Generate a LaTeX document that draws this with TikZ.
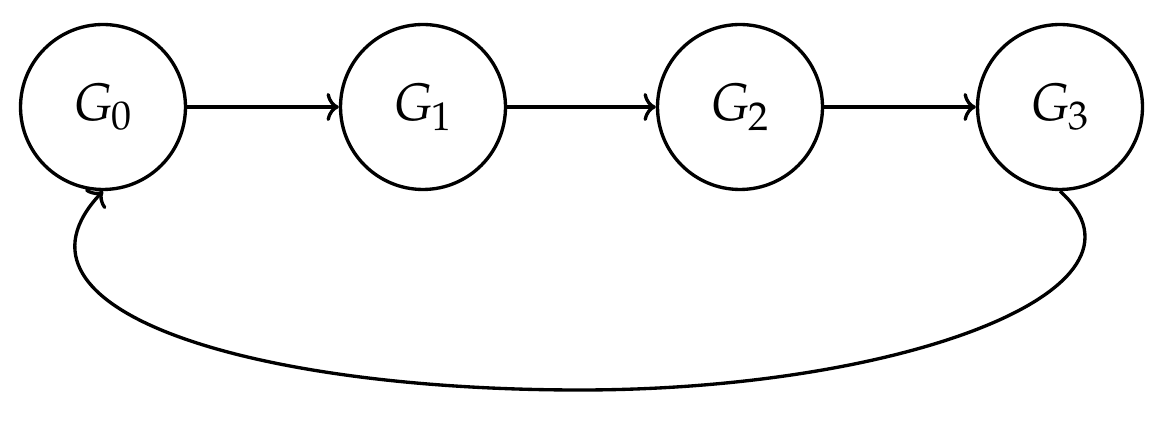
\documentclass[tikz,border=0pt]{standalone}
\usepackage{mathpazo}
\usetikzlibrary{arrows.meta}
\begin{document}
\begin{tikzpicture}[x=0.02cm,y=-0.02cm,
  st/.style={circle,draw,line width=1.9pt,minimum size=3.3cm,inner sep=0pt,font=\fontsize{30}{36}\selectfont},
  ar/.style={-{To[length=7pt,width=16pt]},line width=1.9pt}]
\useasboundingbox (0,0) rectangle (1165,421);
\node[st] (g0) at (103,107) {$G_0$};
\node[st] (g1) at (423,107) {$G_1$};
\node[st] (g2) at (740,107) {$G_2$};
\node[st] (g3) at (1060,107) {$G_3$};
\draw[ar] (g0) -- (g1);
\draw[ar] (g1) -- (g2);
\draw[ar] (g2) -- (g3);
\coordinate (m) at (580,390);
\draw[ar] (g3.south) .. controls (1170,290) and (900,390) .. (m) .. controls (250,390) and (-10,310) .. (g0.south);
\end{tikzpicture}
\end{document}
